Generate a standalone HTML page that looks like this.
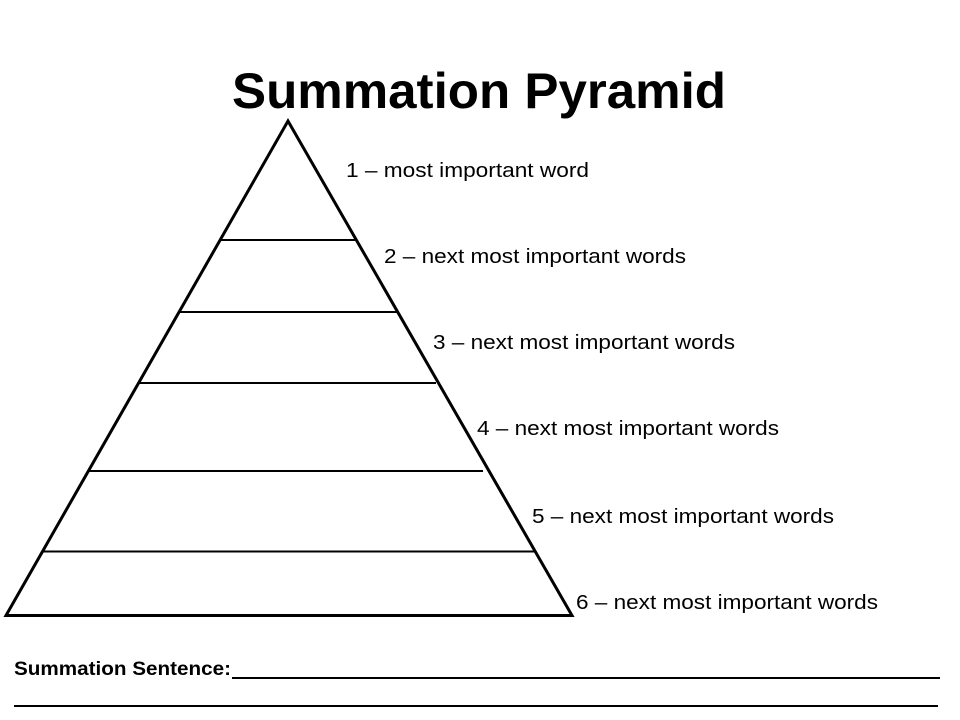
<!DOCTYPE html>
<html><head><meta charset="utf-8"><style>html,body{margin:0;padding:0;background:#fff;}svg{display:block}</style></head>
<body>
<svg width="960" height="720" xmlns="http://www.w3.org/2000/svg">
<text x="232" y="108" font-family="Liberation Sans, sans-serif" font-weight="bold" font-size="50" textLength="494" lengthAdjust="spacingAndGlyphs">Summation Pyramid</text>
<polygon points="288,121 6,615.5 572,615.5" fill="none" stroke="#000" stroke-width="3" stroke-linejoin="miter"/>
<g stroke="#000" stroke-width="2">
<line x1="221" y1="240" x2="356" y2="240"/>
<line x1="178" y1="312" x2="398" y2="312"/>
<line x1="139" y1="383" x2="436" y2="383"/>
<line x1="88" y1="471" x2="483" y2="471"/>
<line x1="42" y1="551.5" x2="535" y2="551.5"/>
</g>
<g font-family="Liberation Sans, sans-serif" font-size="20" fill="#000">
<text x="346" y="177" textLength="243" lengthAdjust="spacingAndGlyphs">1 – most important word</text>
<text x="384" y="263" textLength="302" lengthAdjust="spacingAndGlyphs">2 – next most important words</text>
<text x="433" y="349" textLength="302" lengthAdjust="spacingAndGlyphs">3 – next most important words</text>
<text x="477" y="435" textLength="302" lengthAdjust="spacingAndGlyphs">4 – next most important words</text>
<text x="532" y="523" textLength="302" lengthAdjust="spacingAndGlyphs">5 – next most important words</text>
<text x="576" y="609" textLength="302" lengthAdjust="spacingAndGlyphs">6 – next most important words</text>
</g>
<text x="14" y="675" font-family="Liberation Sans, sans-serif" font-weight="bold" font-size="19" textLength="217" lengthAdjust="spacingAndGlyphs">Summation Sentence:</text>
<line x1="232" y1="678" x2="940" y2="678" stroke="#000" stroke-width="2"/>
<line x1="14" y1="706" x2="938" y2="706" stroke="#000" stroke-width="2"/>
</svg>
</body></html>
